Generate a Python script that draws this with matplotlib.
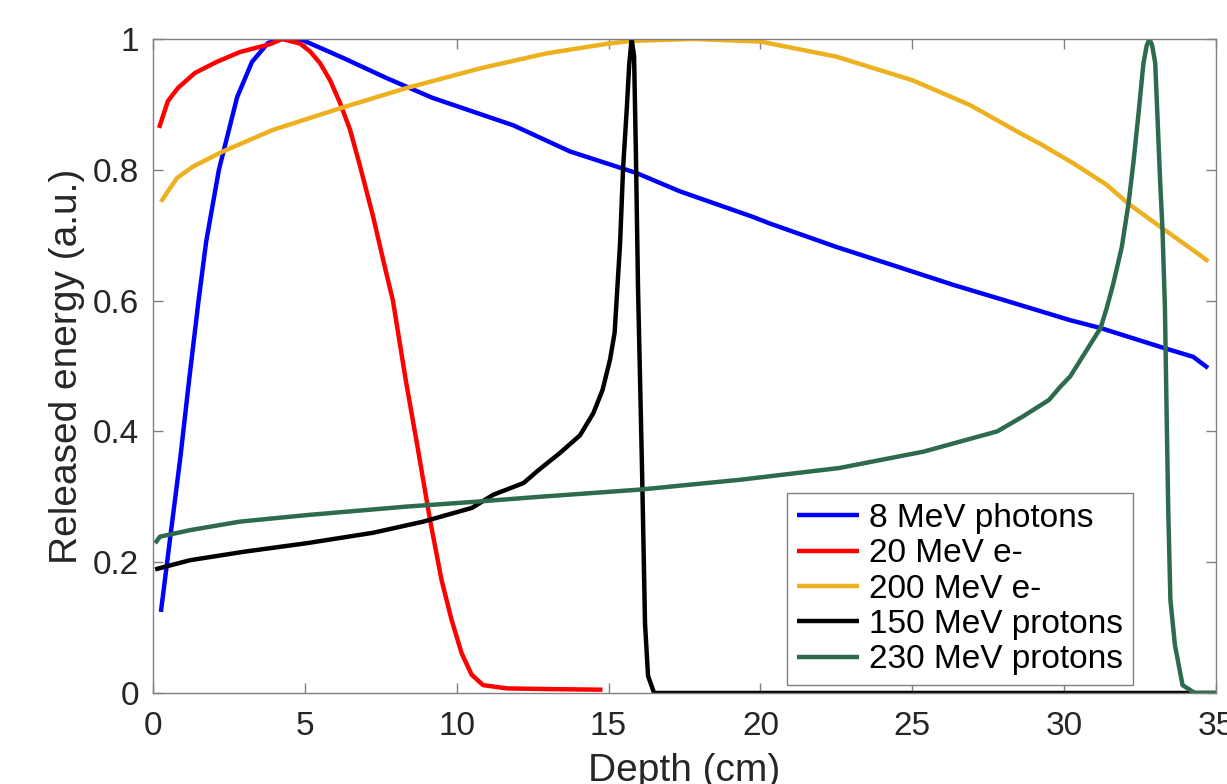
"""Released energy versus depth for photon, electron and proton beams."""

import matplotlib
matplotlib.use('Agg')
import matplotlib.pyplot as plt

plt.rcParams['font.family'] = ['Liberation Sans', 'DejaVu Sans']

# 8 MeV photons
photon_x = [0.26, 0.6, 0.9, 1.19, 1.5, 1.75, 2.17, 2.77, 3.26, 3.79, 4.25, 4.94,
            6.26, 7.7, 9.2, 11.1, 11.86, 13.73, 15.92, 17.35, 19.75, 20.3, 22.5,
            24.5, 26.35, 28.0, 30.2, 31.2, 33.25, 34.25, 34.74]
photon_y = [0.124, 0.25, 0.36, 0.479, 0.60, 0.69, 0.80, 0.911, 0.965, 0.994, 1.0, 0.998,
            0.971, 0.94, 0.91, 0.88, 0.868, 0.828, 0.795, 0.767, 0.728, 0.718, 0.682,
            0.652, 0.624, 0.601, 0.570, 0.558, 0.528, 0.514, 0.497]

# 20 MeV electrons
e20_x = [0.2, 0.49, 0.82, 1.38, 2.1, 2.86, 3.85, 4.25, 4.84, 5.17, 5.5, 5.83, 6.16,
         6.49, 6.82, 7.25, 7.64, 7.9, 8.32, 8.7, 9.12, 9.5, 9.83, 10.16, 10.49,
         10.87, 11.65, 13.0, 14.8]
e20_y = [0.864, 0.905, 0.925, 0.948, 0.965, 0.98, 0.992, 1.0, 0.993, 0.981, 0.963,
         0.937, 0.902, 0.861, 0.805, 0.728, 0.65, 0.6, 0.479, 0.379, 0.265, 0.173,
         0.112, 0.061, 0.028, 0.012, 0.007, 0.006, 0.005]

# 200 MeV electrons
e200_x = [0.26, 0.78, 1.32, 2.3, 3.95, 6.16, 8.35, 10.77, 12.96, 15.0, 15.76, 17.8,
          20.0, 22.5, 25.0, 26.9, 28.55, 29.2, 30.3, 31.4, 32.12, 33.16, 34.25, 34.75]
e200_y = [0.751, 0.787, 0.805, 0.828, 0.861, 0.894, 0.925, 0.955, 0.978, 0.993, 0.997,
          1.0, 0.996, 0.973, 0.937, 0.899, 0.856, 0.840, 0.810, 0.777, 0.748, 0.713,
          0.677, 0.660]

# 150 MeV protons
p150_x = [0.07, 1.22, 3.0, 5.06, 7.25, 8.9, 10.5, 11.2, 12.2, 12.7, 13.4, 14.06,
          14.5, 14.8, 15.05, 15.2, 15.38, 15.48, 15.6, 15.68, 15.76, 15.84, 15.9,
          15.97, 16.1, 16.2, 16.3, 16.5, 35.0]
p150_y = [0.189, 0.203, 0.216, 0.229, 0.245, 0.262, 0.283, 0.303, 0.321, 0.341,
          0.367, 0.394, 0.428, 0.463, 0.51, 0.551, 0.688, 0.804, 0.893, 0.961, 1.0,
          0.974, 0.826, 0.62, 0.347, 0.107, 0.026, 0.0, 0.0]

# 230 MeV protons
p230_x = [0.07, 0.23, 1.22, 2.86, 5.06, 8.35, 10.5, 12.74, 16.04, 19.33, 22.6,
          25.37, 27.8, 28.65, 29.5, 29.87, 30.2, 31.2, 31.4, 31.62, 31.9, 32.12,
          32.28, 32.45, 32.61, 32.72, 32.81, 32.9, 33.0, 33.07, 33.16, 33.24, 33.32,
          33.38, 33.43, 33.5, 33.65, 33.9, 34.3, 35.0]
p230_y = [0.229, 0.239, 0.249, 0.262, 0.272, 0.285, 0.292, 0.300, 0.311, 0.326,
          0.344, 0.369, 0.40, 0.423, 0.448, 0.468, 0.484, 0.558, 0.588, 0.626, 0.682,
          0.748, 0.81, 0.886, 0.962, 0.99, 1.0, 0.99, 0.963, 0.886, 0.784, 0.708,
          0.588, 0.415, 0.278, 0.142, 0.073, 0.012, 0.0, 0.0]

labels = ['8 MeV photons', '20 MeV e-', '200 MeV e-', '150 MeV protons', '230 MeV protons']
colors = ['#0000FF', '#FF0000', '#EDB120', '#000000', '#2E6B4E']

x_ticks = [0, 5, 10, 15, 20, 25, 30, 35]
y_ticks = [0, 0.2, 0.4, 0.6, 0.8, 1]
y_tick_labels = ['0', '0.2', '0.4', '0.6', '0.8', '1']

fig = plt.figure(figsize=(12.27, 7.84), dpi=100)
ax = fig.add_axes([0.1247, 0.1161, 0.8663, 0.8342])

series = [(photon_x, photon_y), (e20_x, e20_y), (e200_x, e200_y),
          (p150_x, p150_y), (p230_x, p230_y)]
for (xs, ys), lab, col in zip(series, labels, colors):
    ax.plot(xs, ys, color=col, lw=3.2, label=lab,
            solid_joinstyle='round', solid_capstyle='butt')

ax.set_xlim(0, 35)
ax.set_ylim(0, 1)
ax.set_xticks(x_ticks)
ax.set_yticks(y_ticks)
ax.set_yticklabels(y_tick_labels)

for spine in ax.spines.values():
    spine.set_color('#808080')
    spine.set_linewidth(1.0)
ax.tick_params(direction='in', length=7, width=1.0, color='#808080',
               top=True, right=True, labelsize=24, labelcolor='#262626')
ax.tick_params(axis='x', pad=13)
ax.tick_params(axis='y', pad=10)

ax.set_xlabel('Depth (cm)', fontsize=28, color='#262626', labelpad=8)
ax.set_ylabel('Released energy (a.u.)', fontsize=28, color='#262626', labelpad=6)

leg = ax.legend(loc='upper left', bbox_to_anchor=(0.6414, 0.3712),
                bbox_transform=fig.transFigure, fontsize=24, fancybox=False,
                framealpha=1, edgecolor='#808080', borderaxespad=0,
                handlelength=1.85, handletextpad=0.3, labelspacing=0.13,
                borderpad=0.3)
leg.get_frame().set_linewidth(1.0)
for line in leg.get_lines():
    line.set_linewidth(3.2)

fig.savefig('out.png', dpi=100)
